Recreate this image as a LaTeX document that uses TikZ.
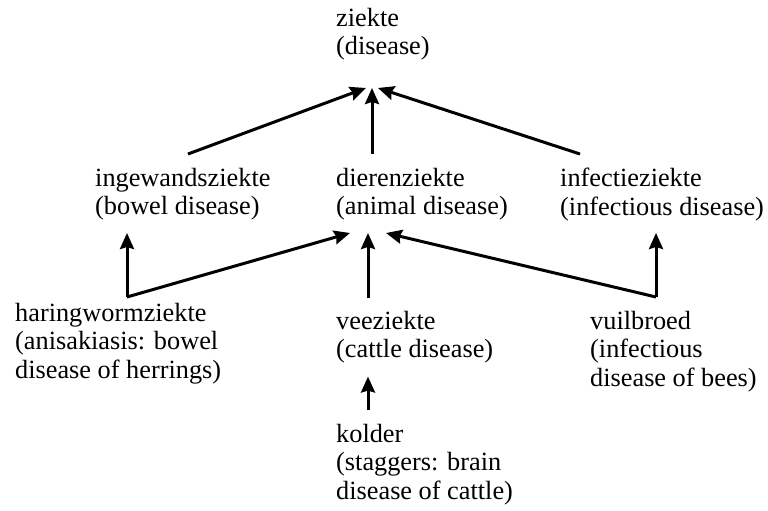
\documentclass[tikz,border=0pt]{standalone}
\usepackage{fontspec}
\setmainfont{Liberation Serif}
\usetikzlibrary{arrows.meta}
\tikzset{
  term/.style={anchor=north west, align=left, inner sep=0pt,
    font=\fontsize{26.3}{28.3}\selectfont},
  isa/.style={-{Stealth[length=16pt,width=14pt,inset=2pt]}, line width=3pt}
}
\begin{document}
\begin{tikzpicture}[x=1pt, y=-1pt]
\useasboundingbox (0,0) rectangle (768,511);
%terms
\node[term] (ziekte) at (336,8) {ziekte\\(disease)};
\node[term] (ingewand) at (95,168) {ingewandsziekte\\(bowel disease)};
\node[term] (dieren) at (336,168) {dierenziekte\\(animal disease)};
\node[term] (infectie) at (560,168) {infectieziekte\\(infectious disease)};
\node[term] (haring) at (15,303) {haringwormziekte\\(anisakiasis: bowel\\disease of herrings)};
\node[term] (vee) at (336,311) {veeziekte\\(cattle disease)};
\node[term] (vuil) at (590,311) {vuilbroed\\(infectious\\disease of bees)};
\node[term] (kolder) at (336,424) {kolder\\(staggers: brain\\disease of cattle)};

%arrow ends
\coordinate (ziekte in) at (372,88);
\coordinate (dieren in) at (368,233);
\coordinate (haring knee) at (127,297);
\coordinate (vuil knee) at (656,297);

%links
\draw[isa] (ingewand.north -| 188,0) ++(0,-14) -- ([xshift=-6pt]ziekte in);
\draw[isa] (dieren.north -| ziekte in) ++(0,-14) -- (ziekte in);
\draw[isa] (infectie.north -| 580,0) ++(0,-14) -- ([xshift=6pt]ziekte in);
\draw[isa] (haring knee) -- (haring knee |- dieren in);
\draw[isa] (haring knee) -- ([xshift=-18pt]dieren in);
\draw[isa] (vee.north -| dieren in) ++(0,-13) -- (dieren in);
\draw[isa] (vuil knee) -- (vuil knee |- dieren in);
\draw[isa] (vuil knee) -- ([xshift=18pt]dieren in);
\draw[isa] (kolder.north -| dieren in) ++(0,-14) -- ([yshift=-13pt]vee.south -| dieren in);
\end{tikzpicture}
\end{document}
